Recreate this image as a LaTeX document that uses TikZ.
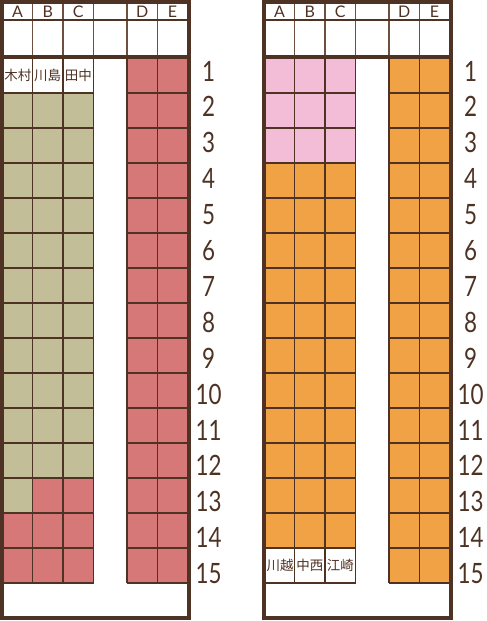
\documentclass[tikz,border=0pt]{standalone}
\usepackage{fontspec}
\setmainfont{Lato}
\newfontfamily\jpfont{Noto Sans CJK JP}
\definecolor{brn}{RGB}{78,50,36}
\definecolor{brnl}{RGB}{110,80,64}
\definecolor{khaki}{RGB}{194,191,152}
\definecolor{rose}{RGB}{214,120,120}
\definecolor{pinkc}{RGB}{243,189,216}
\definecolor{orng}{RGB}{240,162,68}
\tikzset{
  gridline/.style={draw=brn, line width=1.8pt},
  headline/.style={draw=brnl, line width=1.3pt},
  frame/.style={draw=brn, line width=3.5pt},
  letter/.style={font=\fontsize{16}{18}\selectfont, text=brn, inner sep=0pt},
  num/.style={font=\fontsize{28}{34}\selectfont, text=brn, inner sep=0pt, anchor=base, xscale=0.8},
  jpn/.style={font=\jpfont\fontsize{13.5}{16}\selectfont, text=brn, inner sep=0pt},
}
\newcommand\carframe[1]{%
  % seat grid A-C
  \foreach \k in {1,...,15} {\draw[gridline] (2,{58+35*\k}) -- (93.5,{58+35*\k});}
  \foreach \xx in {32.5,63,93.5} {\draw[gridline] (\xx,57) -- (\xx,583);}
  % seat grid D-E
  \foreach \k in {1,...,15} {\draw[gridline] (127,{58+35*\k}) -- (189,{58+35*\k});}
  \foreach \xx in {127,157.5} {\draw[gridline] (\xx,57) -- (\xx,583);}
  % header
  \foreach \xx in {32.5,63,93.5,127,157.5} {\draw[headline] (\xx,2) -- (\xx,57);}
  \draw[brn, line width=2.4pt] (2,20) -- (189,20);
  \draw[frame] (2,57) -- (189,57);
  \draw[frame] (2,2) rectangle (189,618);
  \node[letter] (#1-A) at (17.5,12) {A};
  \node[letter] (#1-B) at (47.75,12) {B};
  \node[letter] (#1-C) at (78.25,12) {C};
  \node[letter] (#1-D) at (142.25,12) {D};
  \node[letter] (#1-E) at (172.5,12) {E};
  \foreach \r in {1,...,15} {\node[num] (#1-n\r) at (208.5,{81+35.9*(\r-1)}) {\r};}
}
\begin{document}
\begin{tikzpicture}[x=1pt,y=-1pt]
\useasboundingbox (0,0) rectangle (487,621);
% ---------- left car ----------
\begin{scope}
  \fill[rose] (127,58) rectangle (189,583);
  \fill[khaki] (2,93) rectangle (93.5,478);
  \fill[khaki] (2,478) rectangle (32.5,513);
  \fill[rose] (32.5,478) rectangle (93.5,513);
  \fill[rose] (2,513) rectangle (93.5,583);
  \carframe{L}
  \node[jpn] (L-kimura) at (18,75.5) {木村};
  \node[jpn] (L-kawashima) at (47.75,75.5) {川島};
  \node[jpn] (L-tanaka) at (78.25,75.5) {田中};
\end{scope}
% ---------- right car ----------
\begin{scope}[xshift=262pt]
  \fill[orng] (127,58) rectangle (189,583);
  \fill[pinkc] (2,58) rectangle (93.5,163);
  \fill[orng] (2,163) rectangle (93.5,548);
  \carframe{R}
  \node[jpn] (R-kawagoe) at (18,565.5) {川越};
  \node[jpn] (R-nakanishi) at (47.75,565.5) {中西};
  \node[jpn] (R-esaki) at (78.25,565.5) {江崎};
\end{scope}
\end{tikzpicture}
\end{document}
